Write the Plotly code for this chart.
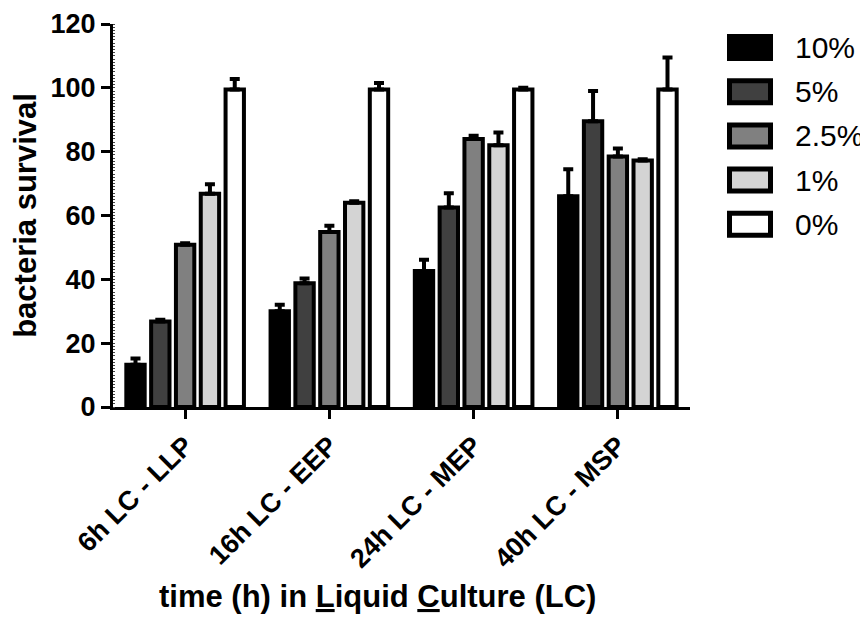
import plotly.graph_objects as go

# --- data ------------------------------------------------------------------
categories = ["6h LC - LLP", "16h LC - EEP", "24h LC - MEP", "40h LC - MSP"]
series_names = ["10%", "5%", "2.5%", "1%", "0%"]

surv_10 = [13.2, 30.0, 42.6, 66.0]
surv_5 = [26.8, 38.8, 62.5, 89.5]
surv_2_5 = [50.8, 54.8, 84.0, 78.5]
surv_1 = [66.8, 64.0, 82.0, 77.2]
surv_0 = [99.5, 99.5, 99.5, 99.5]

err_10 = [2.0, 2.0, 3.5, 8.5]
err_5 = [0.5, 1.5, 4.5, 9.5]
err_2_5 = [0.5, 2.0, 1.0, 2.5]
err_1 = [3.0, 0.5, 4.0, 0.4]
err_0 = [3.3, 2.0, 0.5, 10.0]

y_ticks = [0, 20, 40, 60, 80, 100, 120]

# --- styling -----------------------------------------------------------------
fills = ["#000000", "#404040", "#808080", "#d4d4d4", "#ffffff"]
FONT = "Liberation Sans, Arial, sans-serif"
# page has an 8px body margin, so the figure is 8px smaller than the window
W, H = 860, 616
ML, MR, MT, MB = 105, 178, 16, 217
pw, ph = W - ML - MR, H - MT - MB
PX0, PY0 = 113, 24   # plot-area corner in window pixels

def px_x(x): return (x - PX0) / pw
def px_y(y): return 1 - (y - PY0) / ph

values = [surv_10, surv_5, surv_2_5, surv_1, surv_0]
errors = [err_10, err_5, err_2_5, err_1, err_0]

fig = go.Figure()
for name, v, e, c in zip(series_names, values, errors, fills):
    fig.add_trace(go.Bar(
        x=categories, y=v, name=name,
        marker=dict(color=c, line=dict(color="black", width=4)),
        error_y=dict(type="data", symmetric=False, array=e,
                     arrayminus=[0] * len(e), color="black",
                     thickness=4, width=5),
        showlegend=False))

# hand drawn legend (wide rectangles like the original)
shapes, annos = [], []
for i, (name, c) in enumerate(zip(series_names, fills)):
    yc = 47.5 + 44.2 * i
    shapes.append(dict(type="rect", xref="paper", yref="paper",
                       x0=px_x(729.5), x1=px_x(770.5),
                       y0=px_y(yc + 11), y1=px_y(yc - 11),
                       fillcolor=c, line=dict(color="black", width=5)))
    annos.append(dict(xref="paper", yref="paper", x=px_x(793), y=px_y(yc),
                      text=name, showarrow=False, xanchor="left",
                      yanchor="middle",
                      font=dict(family=FONT, size=30, color="black")))

# x title sits a bit left of the plot centre in the original
annos.append(dict(xref="paper", yref="paper", x=px_x(377), y=px_y(596),
                  text="<b>time (h) in <u>L</u>iquid <u>C</u>ulture (LC)</b>",
                  showarrow=False, xanchor="center", yanchor="middle",
                  font=dict(family=FONT, size=31, color="black")))

fig.update_layout(
    width=W, height=H,
    margin=dict(l=ML, r=MR, t=MT, b=MB),
    paper_bgcolor="white", plot_bgcolor="white",
    barmode="group", bargap=0.14, bargroupgap=0.26,
    font=dict(family=FONT, color="black"),
    shapes=shapes, annotations=annos,
)
fig.update_xaxes(
    range=[-0.5, 3.5], showline=True, linecolor="black", linewidth=3,
    ticks="outside", ticklen=9, tickwidth=3, tickcolor="black",
    tickangle=-45, showgrid=False, zeroline=False,
    tickfont=dict(family=FONT, size=27, color="black"),
    ticktext=["<b>%s</b>" % c for c in categories], tickvals=categories,
    automargin=False,
)
fig.update_yaxes(
    range=[0, 120], tickvals=y_ticks,
    ticktext=["<b>%d</b>" % t for t in y_ticks],
    ticklabeloverflow="allow",
    showline=True, linecolor="black", linewidth=3,
    ticks="outside", ticklen=9, tickwidth=3, tickcolor="black",
    minor=dict(ticks="inside", dtick=1, ticklen=2, tickwidth=1,
               tickcolor="#444444"),
    showgrid=False, zeroline=False,
    tickfont=dict(family=FONT, size=27, color="black"),
    title=dict(text="<b>bacteria survival</b>",
               font=dict(family=FONT, size=31, color="black"), standoff=14),
    automargin=False,
)

fig.write_html("out.html")
